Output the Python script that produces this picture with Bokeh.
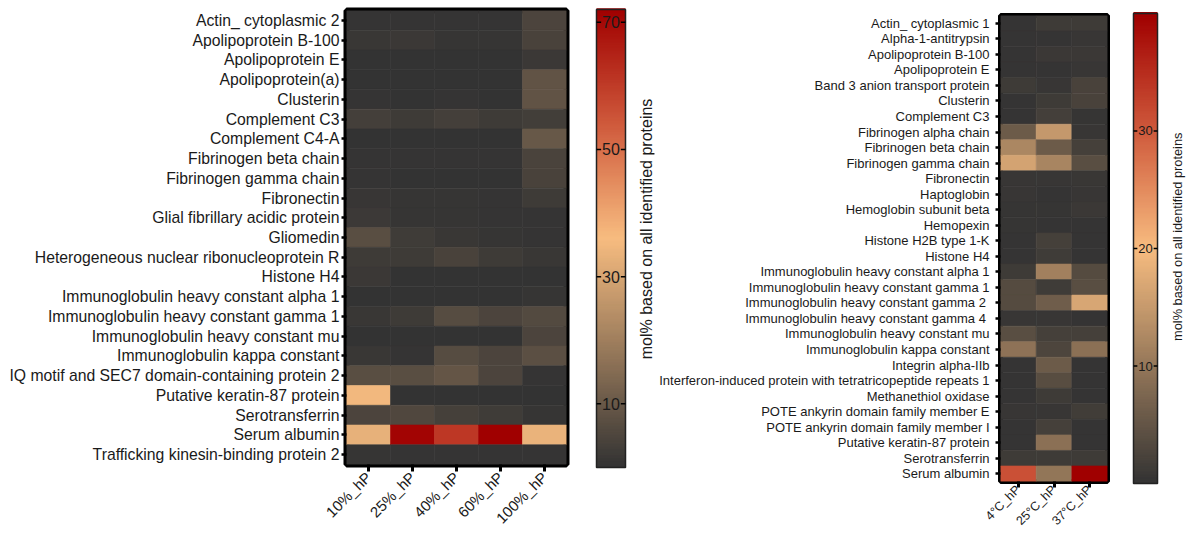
import numpy as np
from math import pi
from bokeh.plotting import figure
from bokeh.layouts import row, column
from bokeh.models import FactorRange, Range1d, LinearColorMapper, ColumnDataSource
from bokeh.transform import transform
from bokeh.core.properties import value
from bokeh.embed import file_html
from bokeh.resources import INLINE

FONT = "Liberation Sans"
TXT = "#1a1a1a"

# ---------------- data: left panel (mol%) ----------------
left_proteins = [
    "Actin_ cytoplasmic 2", "Apolipoprotein B-100", "Apolipoprotein E", "Apolipoprotein(a)",
    "Clusterin", "Complement C3", "Complement C4-A", "Fibrinogen beta chain",
    "Fibrinogen gamma chain", "Fibronectin", "Glial fibrillary acidic protein", "Gliomedin",
    "Heterogeneous nuclear ribonucleoprotein R", "Histone H4",
    "Immunoglobulin heavy constant alpha 1", "Immunoglobulin heavy constant gamma 1",
    "Immunoglobulin heavy constant mu", "Immunoglobulin kappa constant",
    "IQ motif and SEC7 domain-containing protein 2", "Putative keratin-87 protein",
    "Serotransferrin", "Serum albumin", "Trafficking kinesin-binding protein 2",
]
left_groups = ["10%_hP", "25%_hP", "40%_hP", "60%_hP", "100%_hP"]
hp10 = [0.3, 1.2, 0.2, 0.2, 0.3, 3.3, 0.2, 0.5, 0.5, 1.0, 1.8, 7.3, 2.0, 1.5, 0.2, 1.2, 0.2, 1.2, 7.2, 35.0, 4.5, 33.0, 0.8]
hp25 = [0.3, 1.5, 0.2, 0.2, 0.2, 2.0, 0.2, 0.3, 0.2, 0.8, 0.8, 2.5, 2.0, 0.2, 0.2, 2.0, 0.2, 0.3, 7.2, 0.1, 5.5, 71.0, 0.3]
hp40 = [0.3, 0.6, 0.2, 0.2, 0.3, 3.3, 0.2, 0.3, 0.2, 0.8, 0.8, 1.2, 4.0, 0.2, 0.2, 6.5, 0.2, 6.5, 9.0, 0.1, 3.5, 61.0, 0.3]
hp60 = [0.3, 0.6, 0.2, 0.2, 0.2, 2.0, 0.2, 0.3, 0.2, 0.4, 0.3, 0.6, 2.0, 0.2, 0.2, 4.5, 0.2, 4.5, 4.5, 0.1, 2.5, 72.0, 0.3]
hp100 = [4.5, 4.0, 1.5, 8.5, 8.5, 3.0, 9.8, 4.3, 4.0, 2.0, 0.3, 0.3, 1.4, 0.2, 0.8, 6.0, 4.5, 7.5, 0.3, 0.1, 0.7, 33.5, 0.3]
left_columns = [hp10, hp25, hp40, hp60, hp100]
left_max = 72.0
left_ticks = [10, 30, 50, 70]

# ---------------- data: right panel (mol%) ----------------
right_proteins = [
    "Actin_ cytoplasmic 1", "Alpha-1-antitrypsin", "Apolipoprotein B-100", "Apolipoprotein E",
    "Band 3 anion transport protein", "Clusterin", "Complement C3", "Fibrinogen alpha chain",
    "Fibrinogen beta chain", "Fibrinogen gamma chain", "Fibronectin", "Haptoglobin",
    "Hemoglobin subunit beta", "Hemopexin", "Histone H2B type 1-K", "Histone H4",
    "Immunoglobulin heavy constant alpha 1", "Immunoglobulin heavy constant gamma 1",
    "Immunoglobulin heavy constant gamma 2 ", "Immunoglobulin heavy constant gamma 4 ",
    "Immunoglobulin heavy constant mu", "Immunoglobulin kappa constant", "Integrin alpha-IIb",
    "Interferon-induced protein with tetratricopeptide repeats 1", "Methanethiol oxidase",
    "POTE ankyrin domain family member E", "POTE ankyrin domain family member I",
    "Putative keratin-87 protein", "Serotransferrin", "Serum albumin",
]
right_groups = ["4°C_hP", "25°C_hP", "37°C_hP"]
t4 = [0.2, 0.3, 0.3, 0.3, 1.1, 0.2, 0.2, 5.8, 12.2, 16.4, 0.6, 0.6, 0.4, 0.4, 0.2, 0.2, 1.2, 3.5, 3.5, 0.5, 4.0, 9.3, 0.3, 0.3, 0.3, 0.6, 0.3, 0.3, 1.1, 31.0]
t25 = [1.1, 0.3, 0.8, 0.3, 0.6, 1.1, 1.8, 14.8, 5.8, 12.0, 0.5, 0.3, 0.4, 0.3, 2.0, 1.3, 11.4, 1.3, 6.2, 0.5, 2.0, 2.8, 5.8, 3.8, 1.1, 0.6, 2.0, 9.0, 1.1, 9.7]
t37 = [1.1, 0.5, 0.8, 0.5, 2.3, 2.3, 0.4, 0.5, 2.0, 4.0, 0.7, 0.5, 0.8, 0.2, 0.2, 0.2, 3.5, 4.0, 16.8, 0.2, 2.0, 9.0, 0.3, 0.3, 0.3, 1.5, 0.3, 0.3, 1.1, 40.0]
right_columns = [t4, t25, t37]
right_max = 40.0
right_ticks = [10, 20, 30]

cbar_title = "mol% based on all identified proteins"

# ---------------- colour map ----------------
stops = [(0.0, (0x33, 0x33, 0x33)), (0.5, (0xf7, 0xbc, 0x80)),
         (0.75, (0xcf, 0x5a, 0x3c)), (1.0, (0xa0, 0x00, 0x00))]


def make_palette(n=256):
    out = []
    for i in range(n):
        t = i / (n - 1)
        for (t0, c0), (t1, c1) in zip(stops[:-1], stops[1:]):
            if t0 <= t <= t1:
                f = (t - t0) / (t1 - t0)
                c = [round(a + (b - a) * f) for a, b in zip(c0, c1)]
                out.append("#%02x%02x%02x" % tuple(c))
                break
    return out


PALETTE = make_palette()


def heatmap(proteins, groups, columns, vmax, width, mb_left, mb_right, mb_top, mb_bottom,
            ylab_size, xlab_size, outline_w, xtick_out, xstandoff, ystandoff):
    mapper = LinearColorMapper(palette=PALETTE, low=0, high=vmax)
    xs, ys, vs = [], [], []
    for g, col in zip(groups, columns):
        for prot, v in zip(proteins, col):
            xs.append(g)
            ys.append(prot)
            vs.append(v)
    src = ColumnDataSource(dict(group=xs, protein=ys, value=vs))
    p = figure(width=width, height=535, title=None,
               x_range=FactorRange(factors=groups),
               y_range=FactorRange(factors=list(reversed(proteins))),
               toolbar_location=None, output_backend="svg",
               min_border_left=mb_left, min_border_right=mb_right,
               min_border_top=mb_top, min_border_bottom=mb_bottom)
    p.rect(x="group", y="protein", width=1, height=1, source=src,
           fill_color=transform("value", mapper), line_color=transform("value", mapper),
           line_width=0.6)
    p.grid.grid_line_color = None
    p.outline_line_color = "black"
    p.outline_line_width = outline_w
    p.background_fill_color = "white"
    p.border_fill_color = "white"
    for ax in (p.xaxis, p.yaxis):
        ax.axis_line_color = None
        ax.major_tick_line_color = "black"
        ax.major_tick_in = 0
        ax.major_label_text_font = FONT
        ax.major_label_text_color = TXT
    p.yaxis.major_label_text_font_size = ylab_size
    p.yaxis.major_tick_out = 5
    p.yaxis.major_tick_line_width = 2.5
    p.yaxis.major_label_standoff = ystandoff
    p.xaxis.major_label_text_font_size = xlab_size
    p.xaxis.major_tick_out = xtick_out
    p.xaxis.major_tick_line_width = 3
    p.xaxis.major_label_orientation = pi / 4
    p.xaxis.major_label_standoff = xstandoff
    return p, mapper


def colorbar(mapper, vmax, ticks, width, mb_left, mb_right, mb_top, mb_bottom,
             xstart, xend, ypad, num_size, title_size, title_x, title_y):
    cb = figure(width=width, height=535, title=None,
                x_range=Range1d(xstart, xend), y_range=Range1d(-ypad, vmax + ypad),
                toolbar_location=None, output_backend="svg",
                min_border_left=mb_left, min_border_right=mb_right,
                min_border_top=mb_top, min_border_bottom=mb_bottom)
    lv = np.linspace(0, vmax, 301)
    src = ColumnDataSource(dict(bottom=lv[:-1], top=lv[1:] + vmax * 0.003,
                                mid=(lv[:-1] + lv[1:]) / 2))
    cb.quad(left=0, right=1, bottom="bottom", top="top", source=src,
            fill_color=transform("mid", mapper), line_color=None)
    cb.quad(left=[0], right=[1], bottom=[0], top=[vmax], fill_color=None,
            line_color="#222222", line_width=1.5)
    cb.segment(x0=[0] * len(ticks), x1=[0.16] * len(ticks), y0=ticks, y1=ticks,
               line_color="black", line_width=1.5)
    cb.segment(x0=[0.84] * len(ticks), x1=[1] * len(ticks), y0=ticks, y1=ticks,
               line_color="black", line_width=1.5)
    cb.text(x=[0.5] * len(ticks), y=ticks, text=[str(t) for t in ticks],
            text_align="center", text_baseline="middle", text_font_size=num_size,
            text_font=value(FONT), text_color=TXT)
    cb.text(x=[title_x], y=[title_y], text=[cbar_title], angle=pi / 2,
            text_align="center", text_baseline="middle", text_font_size=title_size,
            text_font=value(FONT), text_color=TXT)
    cb.xaxis.visible = False
    cb.yaxis.visible = False
    cb.grid.grid_line_color = None
    cb.outline_line_color = None
    cb.background_fill_color = "white"
    cb.border_fill_color = "white"
    return cb


pA, mapA = heatmap(left_proteins, left_groups, left_columns, left_max,
                   width=590, mb_left=346, mb_right=24, mb_top=10, mb_bottom=70,
                   ylab_size="15.75px", xlab_size="15px", outline_w=6, xtick_out=7,
                   xstandoff=3, ystandoff=2)
pB = colorbar(mapA, left_max, left_ticks, width=66, mb_left=4, mb_right=2,
              mb_top=7, mb_bottom=66, xstart=-0.069, xend=2.0, ypad=0.32,
              num_size="16px", title_size="16px", title_x=1.72, title_y=37.5)
pC, mapC = heatmap(right_proteins, right_groups, right_columns, right_max,
                   width=471, mb_left=341, mb_right=20, mb_top=15, mb_bottom=53,
                   ylab_size="13px", xlab_size="12.5px", outline_w=5, xtick_out=6,
                   xstandoff=0, ystandoff=6)
pD = colorbar(mapC, right_max, right_ticks, width=63, mb_left=4, mb_right=2,
              mb_top=11, mb_bottom=50, xstart=-0.083, xend=2.29, ypad=0.17,
              num_size="13px", title_size="12.8px", title_x=1.85, title_y=21.0)

layout = row(column(pA), column(pB), column(pC), column(pD), spacing=0)
open("out.html", "w").write(file_html(layout, INLINE))
